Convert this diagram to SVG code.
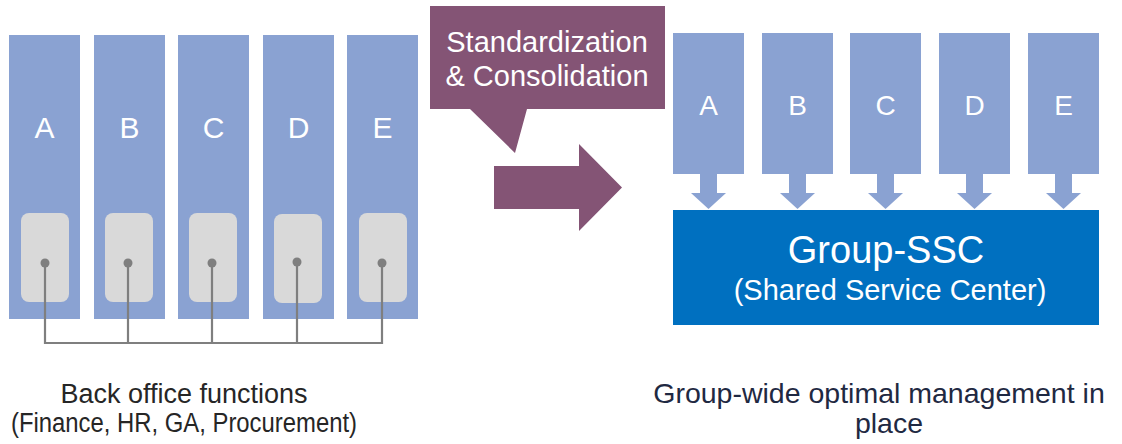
<svg xmlns="http://www.w3.org/2000/svg" width="1122" height="444" viewBox="0 0 1122 444">
  <style>
    .col { fill: #8AA2D2; }
    .slot { fill: #D9D9D9; }
    .dot { fill: #7F7F7F; }
    .link { fill: none; stroke: #7F7F7F; stroke-width: 2.2; }
    .letter { font-family: "Liberation Sans", Arial, sans-serif; font-size: 30px; fill: #FFFFFF; text-anchor: middle; }
    .letter-r { font-family: "Liberation Sans", Arial, sans-serif; font-size: 28px; fill: #FFFFFF; text-anchor: middle; }
    .callout { fill: #845475; }
    .callout-text { font-family: "Liberation Sans", Arial, sans-serif; font-size: 29px; fill: #FFFFFF; text-anchor: middle; }
    .ssc { fill: #0070C0; }
    .ssc-title { font-family: "Liberation Sans", Arial, sans-serif; font-size: 38px; fill: #FFFFFF; text-anchor: middle; }
    .ssc-sub { font-family: "Liberation Sans", Arial, sans-serif; font-size: 29px; fill: #FFFFFF; text-anchor: middle; }
    .caption { font-family: "Liberation Sans", Arial, sans-serif; font-size: 27px; fill: #262626; text-anchor: middle; }
    .caption-r { font-family: "Liberation Sans", Arial, sans-serif; font-size: 28.5px; fill: #1F2942; text-anchor: middle; }
  </style>

  <rect width="1122" height="444" fill="#FFFFFF"/>

  <!-- Back office columns -->
  <g id="left-A">
    <rect class="col" x="9" y="35" width="71" height="284"/>
    <text class="letter" x="44.5" y="138">A</text>
    <rect class="slot" x="21" y="213" width="48" height="89" rx="8"/>
  </g>
  <g id="left-B">
    <rect class="col" x="94" y="35" width="71" height="284"/>
    <text class="letter" x="129.5" y="138">B</text>
    <rect class="slot" x="105" y="213" width="48" height="89" rx="8"/>
  </g>
  <g id="left-C">
    <rect class="col" x="178" y="35" width="71" height="284"/>
    <text class="letter" x="213.5" y="138">C</text>
    <rect class="slot" x="189" y="213" width="48" height="89" rx="8"/>
  </g>
  <g id="left-D">
    <rect class="col" x="263" y="35" width="71" height="284"/>
    <text class="letter" x="298.5" y="138">D</text>
    <rect class="slot" x="274" y="214" width="48" height="89" rx="8"/>
  </g>
  <g id="left-E">
    <rect class="col" x="347" y="35" width="71" height="284"/>
    <text class="letter" x="382.5" y="138">E</text>
    <rect class="slot" x="359" y="213" width="48" height="89" rx="8"/>
  </g>

  <!-- Links between the back office slots -->
  <g id="connectors">
    <path class="link" d="M45 263 V343 H382 V263 M128 263 V343 M212 263 V343 M297 263 V343"/>
    <circle class="dot" cx="45" cy="263" r="4.5"/>
    <circle class="dot" cx="128" cy="263" r="4.5"/>
    <circle class="dot" cx="212" cy="263" r="4.5"/>
    <circle class="dot" cx="297" cy="262" r="4.5"/>
    <circle class="dot" cx="382" cy="263" r="4.5"/>
  </g>

  <!-- Callout and transition arrow -->
  <g id="callout">
    <path class="callout" d="M430 6 H665 V109 H527 L515 153 L470 109 H430 Z"/>
    <text class="callout-text" x="547" y="52">Standardization</text>
    <text class="callout-text" x="547" y="86">&amp; Consolidation</text>
  </g>
  <g id="transition-arrow">
    <path class="callout" d="M494 166 H579 V144 L622 187.5 L579 231 V209 H494 Z"/>
  </g>

  <!-- Consolidated columns feeding the SSC -->
  <g id="right-A">
    <rect class="col" x="673" y="33" width="71" height="141"/>
    <text class="letter-r" x="708.5" y="115">A</text>
    <path class="col" d="M700 174 H717 V193 H726 L708.5 209 L691 193 H700 Z"/>
  </g>
  <g id="right-B">
    <rect class="col" x="762" y="33" width="71" height="141"/>
    <text class="letter-r" x="797.5" y="115">B</text>
    <path class="col" d="M789 174 H806 V193 H815 L797.5 209 L780 193 H789 Z"/>
  </g>
  <g id="right-C">
    <rect class="col" x="850" y="33" width="71" height="141"/>
    <text class="letter-r" x="885.5" y="115">C</text>
    <path class="col" d="M877 174 H894 V193 H903 L885.5 209 L868 193 H877 Z"/>
  </g>
  <g id="right-D">
    <rect class="col" x="939" y="33" width="71" height="141"/>
    <text class="letter-r" x="974.5" y="115">D</text>
    <path class="col" d="M966 174 H983 V193 H992 L974.5 209 L957 193 H966 Z"/>
  </g>
  <g id="right-E">
    <rect class="col" x="1028" y="33" width="71" height="141"/>
    <text class="letter-r" x="1063.5" y="115">E</text>
    <path class="col" d="M1055 174 H1072 V193 H1081 L1063.5 209 L1046 193 H1055 Z"/>
  </g>

  <g id="group-ssc">
    <rect class="ssc" x="673" y="210" width="426" height="115"/>
    <text class="ssc-title" x="886" y="263">Group-SSC</text>
    <text class="ssc-sub" x="890" y="300">(Shared Service Center)</text>
  </g>

  <!-- Captions -->
  <g id="caption-left">
    <text class="caption" x="184" y="403">Back office functions</text>
    <text class="caption" x="184" y="432" textLength="346" lengthAdjust="spacingAndGlyphs">(Finance, HR, GA, Procurement)</text>
  </g>
  <g id="caption-right">
    <text class="caption-r" x="879" y="403">Group-wide optimal management in</text>
    <text class="caption-r" x="889" y="433">place</text>
  </g>
</svg>
